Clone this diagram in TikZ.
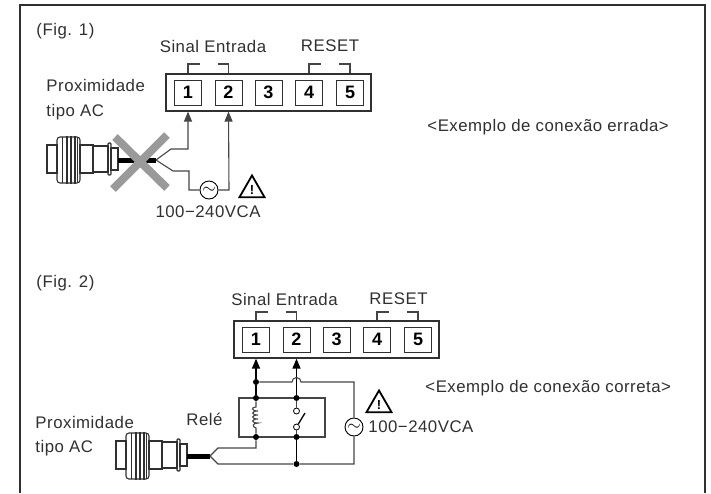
\documentclass[tikz,border=0pt]{standalone}
\usepackage{fontspec}
\setmainfont[LetterSpace=3]{Liberation Sans}
\usetikzlibrary{arrows.meta}
\usetikzlibrary{shapes.geometric}
\definecolor{ink}{HTML}{303030}
\definecolor{wire}{HTML}{454545}
\definecolor{crossgray}{HTML}{9A9A9A}
\tikzset{
	txt/.style={inner sep=0pt,text=ink,font=\fontsize{16.8}{18}\selectfont},
	term/.style={draw=ink,line width=1pt,minimum width=27pt,minimum height=25pt,inner sep=0pt,text=black,font=\fontsize{18}{19}\selectfont\bfseries},
	strip/.style={draw=ink,line width=1.2pt,minimum width=205pt,minimum height=37pt,inner sep=0pt},
	dot/.style={circle,fill=black,inner sep=0pt,minimum size=6pt},
	contact/.style={circle,draw=black,fill=white,line width=0.8pt,inner sep=0pt,minimum size=6pt},
	ac/.style={circle,draw=black,fill=white,line width=0.9pt,inner sep=0pt,minimum size=18pt,font=\fontsize{17}{17}\selectfont},
	warn/.style={regular polygon,regular polygon sides=3,draw=black,line width=1.8pt,inner sep=0pt,minimum size=29pt,font=\fontsize{13}{13}\selectfont\bfseries},
	ln/.style={draw=wire,line width=1.1pt},
	pin/.style={-{Triangle[length=10pt,width=8pt]},draw=wire,line width=1.1pt},
	sensor/.pic={
		\draw[ink,line width=1.1pt] (0,-15) rectangle (10,13);
		\draw[ink,line width=1.1pt,rounded corners=3pt] (10,-23) rectangle (33,23);
		\draw[ink,line width=0.7pt] (15,-23) -- (15,23) (30,-23) -- (30,23);
		\draw[ink,line width=1.3pt] (20,-24) -- (20,24) (24,-24) -- (24,24) (28,-24) -- (28,24);
		\draw[ink,line width=1.1pt] (33,-15) rectangle (46,13);
		\draw[ink,line width=1.1pt] (46,-14) rectangle (61,12);
		\draw[ink,line width=1.1pt,rounded corners=1pt] (61,-17) rectangle (64,15);
		\draw[ink,line width=1.1pt] (64,-12) rectangle (71,10);
	}
}
\begin{document}
\begin{tikzpicture}[x=1pt,y=-1pt,line width=0.9pt]
\useasboundingbox (0,0) rectangle (711,493);
\coordinate (FA) at (20,493);
\coordinate (FB) at (20,5);
\coordinate (FC) at (705,5);
\coordinate (FD) at (705,493);
\draw[ink,line width=1.5pt] (FA) -- (FB) -- (FC) -- (FD);

% Fig. 1
\node[txt,anchor=west] (F1) at (36,31) {(Fig. 1)};
\node[txt] (SE1) at (213,46) {Sinal Entrada};
\node[txt] (RS1) at (330,46) {RESET};
\node[txt,anchor=west] (PX1) at (46,85) {Proximidade};
\node[txt,anchor=west] (TP1) at (46,112) {tipo AC};
\node[txt,anchor=west] (EX1) at (427,127) {<Exemplo de conexão errada>};
\node[txt] (V1) at (208,212) {100−240VCA};

\node[strip] (S1) at (268.5,92.5) {};
\node[term] (A1) at (188,92.5) {1};
\node[term] (A2) at (228.5,92.5) {2};
\node[term] (A3) at (268.5,92.5) {3};
\node[term] (A4) at (309,92.5) {4};
\node[term] (A5) at (350,92.5) {5};

\draw[ln] (A1 |- S1.north) -- (188,64) -- (200,64);
\draw[ln] (A2 |- S1.north) -- (228.5,64) -- (218,64);
\draw[ln] (A4 |- S1.north) -- (309,64) -- (321,64);
\draw[ln] (A5 |- S1.north) -- (350,64) -- (339,64);

\pic at (47,160) {sensor};
\coordinate (C1) at (118,160);
\coordinate (C2) at (156,160);
\draw[black,line width=5pt] (C1) -- (C2);
\node[ac] (AC1) at (209,190) {$\sim$};
\node[warn] (W1) at (252,190) {!};
\coordinate (J1) at (171,149);
\coordinate (J2) at (173,171);
\draw[pin] (C2) -- (J1) -- (188,149) -- (A1 |- S1.south);
\draw[ln] (C2) -- (J2) -- (189,171) -- (189,190) -- (AC1);
\draw[pin] (AC1) -- (229,190) -- (A2 |- S1.south);
\coordinate (X1) at (115,137);
\coordinate (X2) at (167,188);
\coordinate (X3) at (167,135);
\coordinate (X4) at (113,189);
\draw[crossgray,line width=8pt] (X1) -- (X2) (X3) -- (X4);

% Fig. 2
\node[txt,anchor=west] (F2) at (36,283) {(Fig. 2)};
\node[txt] (SE2) at (284.5,299) {Sinal Entrada};
\node[txt] (RS2) at (398.5,299) {RESET};
\node[txt,anchor=west] (PX2) at (35,422) {Proximidade};
\node[txt,anchor=west] (TP2) at (35,448) {tipo AC};
\node[txt,anchor=west] (RL) at (186,419) {Relé};
\node[txt,anchor=west] (EX2) at (425,388) {<Exemplo de conexão correta>};
\node[txt,anchor=west] (V2) at (368,427) {100−240VCA};

\node[strip] (S2) at (336.5,339.5) {};
\node[term] (B1) at (256,339.5) {1};
\node[term] (B2) at (296.5,339.5) {2};
\node[term] (B3) at (336.5,339.5) {3};
\node[term] (B4) at (377,339.5) {4};
\node[term] (B5) at (418,339.5) {5};

\draw[ln] (B1 |- S2.north) -- (256,312) -- (268,312);
\draw[ln] (B2 |- S2.north) -- (296.5,312) -- (286,312);
\draw[ln] (B4 |- S2.north) -- (377,312) -- (389,312);
\draw[ln] (B5 |- S2.north) -- (418,312) -- (407,312);

\pic at (116,456) {sensor};
\coordinate (C3) at (187,456);
\coordinate (C4) at (210,456);
\draw[black,line width=5pt] (C3) -- (C4);
\node[ac] (AC2) at (354,427) {$\sim$};
\node[warn] (W2) at (379,405) {!};

\draw[ln] (239,398) rectangle (325,437);
\node[dot] (D1) at (256,382) {};
\node[dot] (D2) at (256,398) {};
\node[dot] (D3) at (256,437) {};
\node[dot] (D4) at (296.5,398) {};
\node[dot] (D5) at (296.5,437) {};
\node[dot] (D6) at (296.5,464) {};
\node[contact] (K1) at (296.5,411) {};
\node[contact] (K2) at (296.5,427) {};

\draw[pin,line width=1.3pt,draw=black] (D1) -- (B1 |- S2.south);
\draw[ln,draw=black,line width=1.3pt] (D6) -- (D5);
\draw[ln] (D5) -- (K2) (K1) -- (D4);
\draw[pin,line width=1.3pt,draw=black] (D4) -- (B2 |- S2.south);
\draw[line width=1.3pt] (K2) -- (305,413);
\draw[ln,draw=black,line width=1.3pt] (D1) -- (D2);
\draw[ln] (D2) -- (256,407) .. controls (251,407) and (251,411) .. (258,411) .. controls (251,411) and (251,415) .. (258,415) .. controls (251,415) and (251,419) .. (258,419) .. controls (251,419) and (251,423) .. (258,423) .. controls (252,423) and (252,427) .. (256,428) -- (D3);
\draw[ln] (C4) -- (218,448) -- (256,448) -- (D3);
\draw[ln] (C4) -- (218,464) -- (D6) -- (354,464) -- (AC2);
\draw[ln] (AC2) -- (354,382) -- (301,382) arc (0:-180:4.5) -- (D1);
\end{tikzpicture}
\end{document}
